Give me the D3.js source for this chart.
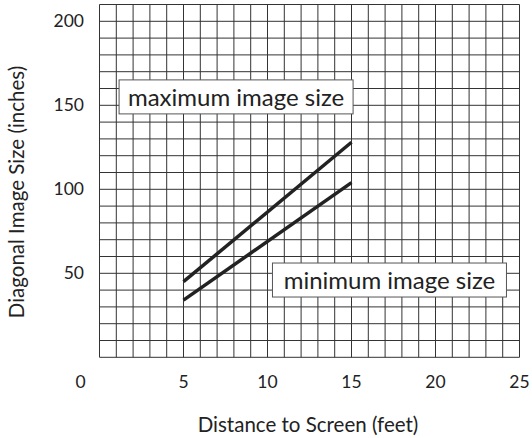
<!DOCTYPE html>
<html>
<head>
<meta charset="utf-8">
<script src="https://cdn.jsdelivr.net/npm/d3@7"></script>
<style>
  body { margin: 0; background: #fff; }
  svg { display: block; font-family: Lato, "Open Sans", sans-serif; }
</style>
</head>
<body>
<svg id="chart" width="532" height="438"></svg>
<script>
// distance to screen (feet) and diagonal image size (inches)
const distance = [5, 15];
const maxSize = [45, 128];
const minSize = [34, 104];

const xTicks = [0, 5, 10, 15, 20, 25];
const yTicks = [50, 100, 150, 200];

const labels = [
  { text: "maximum image size", x: 8.13, y: 155 },
  { text: "minimum image size", x: 17.26, y: 46 },
];

const svg = d3.select("#chart");

const x = d3.scaleLinear().domain([0, 25]).range([99.5, 519.5]);
const y = d3.scaleLinear().domain([0, 210]).range([357.3, 4.5]);

// grid, one line per foot and per 10 inches
const g = svg.append("g");
g.selectAll(".vl")
  .data(d3.range(0, 26))
  .enter()
  .append("line")
  .attr("x1", (d) => x(d))
  .attr("x2", (d) => x(d))
  .attr("y1", y(0))
  .attr("y2", y(210))
  .attr("stroke", "#333")
  .attr("stroke-width", 1);
g.selectAll(".hl")
  .data(d3.range(0, 211, 10))
  .enter()
  .append("line")
  .attr("x1", x(0))
  .attr("x2", x(25))
  .attr("y1", (d) => y(d))
  .attr("y2", (d) => y(d))
  .attr("stroke", "#333")
  .attr("stroke-width", 1);

// tick labels
svg.append("g")
  .selectAll("text")
  .data(xTicks)
  .enter()
  .append("text")
  .attr("x", (d) => (d === 0 ? x(d) - 19 : x(d)))
  .attr("y", 388)
  .attr("text-anchor", "middle")
  .attr("font-size", 17.5)
  .attr("fill", "#222")
  .text((d) => d);

svg.append("g")
  .selectAll("text")
  .data(yTicks)
  .enter()
  .append("text")
  .attr("x", 84)
  .attr("y", (d) => y(d))
  .attr("dy", "0.35em")
  .attr("text-anchor", "end")
  .attr("font-size", 17.5)
  .attr("fill", "#222")
  .text((d) => d);

// axis titles
svg.append("text")
  .attr("x", 308)
  .attr("y", 432)
  .attr("text-anchor", "middle")
  .attr("font-size", 20.5)
  .attr("fill", "#222")
  .text("Distance to Screen (feet)");

svg.append("text")
  .attr("transform", "translate(24,192) rotate(-90)")
  .attr("text-anchor", "middle")
  .attr("font-size", 20.5)
  .attr("fill", "#222")
  .text("Diagonal Image Size (inches)");

// the two lines
const line = d3.line()
  .x((d) => x(d[0]))
  .y((d) => y(d[1]));

[maxSize, minSize].forEach((s) => {
  svg.append("path")
    .datum(distance.map((d, i) => [d, s[i]]))
    .attr("fill", "none")
    .attr("stroke", "#222")
    .attr("stroke-width", 3.5)
    .attr("d", line);
});

// label boxes
labels.forEach((l) => {
  const lg = svg.append("g");
  lg.append("rect")
    .attr("x", x(l.x) - 117)
    .attr("y", y(l.y) - 17)
    .attr("width", 234)
    .attr("height", 34)
    .attr("fill", "#fff")
    .attr("stroke", "#555");
  lg.append("text")
    .attr("x", x(l.x))
    .attr("y", y(l.y))
    .attr("dy", "0.36em")
    .attr("text-anchor", "middle")
    .attr("font-size", 24)
    .attr("fill", "#222")
    .text(l.text);
});
</script>
</body>
</html>
